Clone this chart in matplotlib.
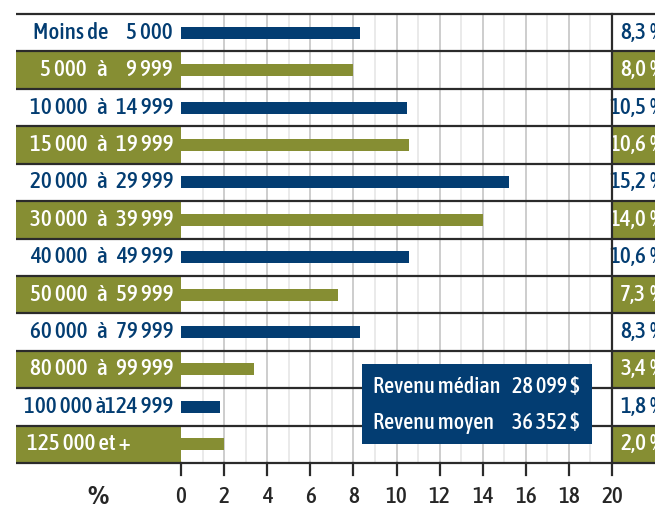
import matplotlib
matplotlib.use("Agg")
import matplotlib.pyplot as plt
from matplotlib import font_manager
from matplotlib.font_manager import FontProperties
from matplotlib.textpath import TextPath
from matplotlib.patches import Rectangle

# ---------------- data ----------------
lower_labels = ["Moins de", "5 000", "10 000", "15 000", "20 000", "30 000",
                "40 000", "50 000", "60 000", "80 000", "100 000", "125 000 et +"]
upper_labels = ["5 000", "9 999", "14 999", "19 999", "29 999", "39 999",
                "49 999", "59 999", "79 999", "99 999", "124 999", ""]
values = [8.3, 8.0, 10.5, 10.6, 15.2, 14.0, 10.6, 7.3, 8.3, 3.4, 1.8, 2.0]
value_numbers = ["8,3", "8,0", "10,5", "10,6", "15,2", "14,0",
                 "10,6", "7,3", "8,3", "3,4", "1,8", "2,0"]
xticks = [0, 2, 4, 6, 8, 10, 12, 14, 16, 18, 20]
box_names = ["Revenu médian", "Revenu moyen"]
box_values = ["28 099 $", "36 352 $"]

BLUE = "#033d72"
OLIVE = "#868e33"
LINE = "#2b2b2b"

# --------------- font -----------------
cond = []
for f in font_manager.fontManager.ttflist:
    nm = f.name.lower()
    st = str(f.stretch).lower()
    if ("condensed" in nm or "narrow" in nm or "condensed" in st
            or (isinstance(f.stretch, int) and f.stretch < 500)):
        if f.style == "normal" and "extra" not in st and "ultra" not in st:
            cond.append(f)


def wnum(w):
    try:
        return int(w)
    except Exception:
        return {"bold": 700, "normal": 400, "regular": 400,
                "medium": 500, "semibold": 600}.get(str(w).lower(), 400)


if cond:
    cond.sort(key=lambda f: (abs(wnum(f.weight) - 500), f.fname))
    FP = FontProperties(fname=cond[0].fname)
    FPB = FontProperties(fname=cond[0].fname)
    bold = sorted([f for f in cond if wnum(f.weight) >= 700],
                  key=lambda f: (wnum(f.weight), f.fname))
    if bold:
        FPB = FontProperties(fname=bold[0].fname)
else:
    FP = FontProperties(family="DejaVu Sans")
    FPB = FontProperties(family="DejaVu Sans", weight="bold")

# size: match reference digit height, but limit width
ext_w = TextPath((0, 0), "29 999", size=100, prop=FP).get_extents()
ext_h = TextPath((0, 0), "0", size=100, prop=FP).get_extents()
px_h = 16.5 / (ext_h.height / 100)
px_w = 62.0 / (ext_w.width / 100)
FS = min(px_h, px_w) * 72 / 100
FP.set_size(FS)
FPB.set_size(FS * 1.02)
FPS = FP.copy()
FPS.set_size(FS * 0.96)

W, H = 655, 508
fig = plt.figure(figsize=(W / 100, H / 100), dpi=100)
x0, x1 = 181, 612
ytop, ybot = 14, 463
ax = fig.add_axes([x0 / W, (H - ybot) / H, (x1 - x0) / W, (ybot - ytop) / H])

n = len(values)
ax.set_xlim(0, 20)
ax.set_ylim(n - 0.5, -0.5)
for s in ax.spines.values():
    s.set_visible(False)
ax.set_yticks([])
ax.set_xticks([])

tr = ax.get_yaxis_transform()  # x in axes fraction, y in data


def fx(px):
    return (px - x0) / (x1 - x0)


left_frac = fx(16)
right_end = fx(W + 5)
rowpx = (ybot - ytop) / n

# minor/major vertical grid
for v in range(1, 20):
    ax.axvline(v, color="#c9c9c9" if v % 2 == 0 else "#e8e8e8",
               lw=1.3, zorder=0)

# olive bands
for i in range(n):
    if i % 2 == 1:
        ax.add_patch(Rectangle((left_frac, i - 0.5), -left_frac, 1.0,
                               transform=tr, color=OLIVE, clip_on=False, zorder=1, lw=0))
        ax.add_patch(Rectangle((1.0, i - 0.5), right_end - 1.0, 1.0,
                               transform=tr, color=OLIVE, clip_on=False, zorder=1, lw=0))

# bars
colors = [BLUE if i % 2 == 0 else OLIVE for i in range(n)]
ax.barh(range(n), values, height=0.32, color=colors, zorder=3)

# horizontal separators
for k in range(n + 1):
    ax.plot([left_frac, right_end], [k - 0.5, k - 0.5], transform=tr,
            color=LINE, lw=1.6, clip_on=False, zorder=4, solid_capstyle="butt")

# right vertical line
ax.plot([1, 1], [-0.5, n - 0.5], transform=tr, color=LINE, lw=1.6,
        clip_on=False, zorder=4)

# ticks below axis
tick_len = 12 / rowpx
ylab = n - 0.5 + 34 / rowpx
for t in xticks:
    ax.plot([t, t], [n - 0.5, n - 0.5 + tick_len], color=LINE, lw=1.6,
            clip_on=False, zorder=4)
    ax.text(t, ylab, str(t), ha="center", va="center",
            fontproperties=FP, color="#262626", clip_on=False)
ax.text(fx(98), ylab, "%", transform=tr,
        ha="center", va="center", fontproperties=FPB, color="#262626")

# left labels
for i in range(n):
    c = BLUE if i % 2 == 0 else "white"
    lo, hi = lower_labels[i], upper_labels[i]
    if i == 0:
        ax.text(fx(108), i, lo, transform=tr, ha="right", va="center",
                fontproperties=FP, color=c)
        ax.text(fx(173), i, hi, transform=tr, ha="right", va="center",
                fontproperties=FP, color=c)
    elif hi == "":
        ax.text(fx(27), i, lo, transform=tr, ha="left", va="center",
                fontproperties=FP, color=c)
    elif len(lo) > 6:
        ax.text(fx(106), i, lo + " à", transform=tr, ha="right", va="center",
                fontproperties=FP, color=c)
        ax.text(fx(173), i, hi, transform=tr, ha="right", va="center",
                fontproperties=FP, color=c)
    else:
        ax.text(fx(87), i, lo, transform=tr, ha="right", va="center",
                fontproperties=FP, color=c)
        ax.text(fx(101), i, "à", transform=tr, ha="center", va="center",
                fontproperties=FP, color=c)
        ax.text(fx(173), i, hi, transform=tr, ha="right", va="center",
                fontproperties=FP, color=c)
    ax.text(fx(646), i, value_numbers[i], transform=tr, ha="right",
            va="center", fontproperties=FP, color=c)
    ax.text(fx(649), i, "%", transform=tr, ha="left",
            va="center", fontproperties=FP, color=c)

# text box
bx0, bx1 = fx(362), fx(592)
by0 = (364 - ytop) / rowpx - 0.5
by1 = (444 - ytop) / rowpx - 0.5
ax.add_patch(Rectangle((bx0, by0), bx1 - bx0, by1 - by0, transform=tr,
                       color=BLUE, zorder=6, lw=0, clip_on=False))
for j, (nm, vl) in enumerate(zip(box_names, box_values)):
    yy = (387 + 36 * j - ytop) / rowpx - 0.5
    ax.text(fx(373), yy, nm, transform=tr, ha="left", va="center",
            fontproperties=FPS, color="white", zorder=7)
    ax.text(fx(579), yy, vl, transform=tr, ha="right", va="center",
            fontproperties=FPS, color="white", zorder=7)

fig.savefig("out.png", dpi=100)
